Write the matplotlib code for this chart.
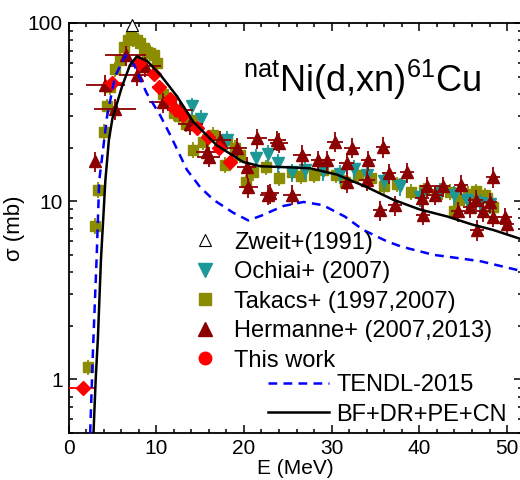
import numpy as np
import matplotlib
matplotlib.use("Agg")
import matplotlib.pyplot as plt
from matplotlib.lines import Line2D
from matplotlib.ticker import MultipleLocator, NullFormatter, LogLocator

plt.rcParams['font.family'] = ['Liberation Sans', 'DejaVu Sans']
plt.rcParams['mathtext.fontset'] = 'custom'
plt.rcParams['mathtext.rm'] = 'Liberation Sans'
plt.rcParams['mathtext.it'] = 'Liberation Sans:italic'

# --- experimental data (E in MeV, sigma in mb) ---
zweit_e = [7.2]
zweit_s = [98.0]

ochiai_e = [14.1, 15.1, 18.1, 21.4, 22.8, 23.9, 25.5, 27.0, 29.0, 31.0, 32.5, 34.0,
            36.0, 37.8, 40.1, 42.4, 44.0, 45.4, 46.9, 48.0]
ochiai_s = [34.0, 29.0, 22.0, 17.5, 18.5, 16.4, 14.5, 15.0, 14.8, 14.2, 15.2, 14.0,
            13.0, 12.1, 10.6, 11.3, 10.8, 10.2, 9.8, 9.6]

takacs_e = [2.25, 3.05, 3.35, 4.0, 4.4, 4.75, 5.3, 5.9, 6.3, 6.8, 7.1, 7.4, 7.8, 8.2,
            8.6, 8.9, 9.3, 9.7, 10.1, 10.8, 12.0, 12.6, 13.4, 14.1, 14.2, 15.3, 16.5,
            17.8, 18.1, 19.0, 19.6, 20.2, 21.0, 22.5, 24.0, 25.5, 26.5, 28.0, 29.0,
            30.5, 31.5, 33.0, 34.5, 36.0, 37.5, 39.0, 40.5, 42.0, 43.5, 43.9, 44.5,
            45.5, 46.5, 47.5, 47.7, 48.4]
takacs_s = [1.17, 7.3, 11.6, 24.5, 34.0, 44.0, 55.0, 62.0, 73.0, 80.0, 84.0, 82.0,
            80.0, 77.0, 72.0, 69.0, 68.0, 66.0, 60.0, 40.0, 31.3, 30.0, 27.0, 28.6,
            19.5, 21.6, 23.6, 16.0, 22.0, 20.0, 18.2, 12.8, 14.5, 15.5, 13.5, 14.5,
            13.8, 14.0, 15.0, 14.0, 12.8, 14.0, 13.5, 12.2, 12.5, 11.3, 11.5, 11.0,
            11.3, 8.8, 10.2, 11.0, 11.4, 10.8, 10.4, 9.3]

hermanne_e = [3.05, 4.2, 5.3, 6.5, 7.8, 8.7, 10.8, 12.7, 13.9, 15.8, 16.0, 17.3,
              19.2, 20.3, 20.5, 21.5, 22.8, 23.0, 23.8, 24.0, 25.5, 26.6, 28.5, 29.5,
              30.4, 31.7, 31.8, 32.3, 34.0, 34.2, 35.5, 35.9, 36.5, 37.2, 38.6, 40.3,
              40.4, 40.9, 41.8, 42.7, 44.4, 44.7, 45.8, 46.4, 46.6, 47.2, 48.1, 48.4,
              48.4, 49.8, 50.0]
hermanne_s = [16.7, 45.0, 33.0, 66.0, 51.0, 57.0, 36.0, 32.5, 27.0, 19.0, 17.8, 22.0,
              20.0, 15.6, 12.0, 22.5, 10.9, 11.1, 22.0, 21.3, 10.9, 18.2, 17.0, 17.0,
              21.6, 16.4, 12.8, 20.0, 13.1, 17.0, 8.9, 20.2, 14.4, 9.5, 14.5, 10.4,
              8.4, 12.1, 10.9, 12.1, 8.8, 12.4, 9.3, 10.2, 6.9, 8.8, 9.9, 13.7,
              8.2, 8.1, 7.4]
hermanne_xerr = [0.3, 2.2, 2.4, 2.3, 2.0, 1.8, 1.6, 1.5, 1.4, 1.3, 1.3, 1.2,
                 1.2, 1.1, 1.1, 1.1, 1.0, 1.0, 1.0, 1.0, 1.0, 1.0, 0.9, 0.9,
                 0.9, 0.9, 0.9, 0.9, 0.9, 0.9, 0.8, 0.8, 0.8, 0.8, 0.8, 0.8,
                 0.8, 0.8, 0.8, 0.8, 0.8, 0.8, 0.8, 0.8, 0.8, 0.8, 0.8, 0.8,
                 0.8, 0.8, 0.8]

this_e = [1.6, 5.0, 8.0, 9.7, 10.3, 11.6, 12.1, 13.1, 14.7, 15.9, 17.2, 18.4]
this_s = [0.89, 46.0, 60.0, 52.0, 44.0, 37.5, 33.0, 30.5, 25.8, 23.0, 19.9, 16.5]
this_xerr = [1.5, 1.1, 0.9, 0.8, 0.8, 0.7, 0.7, 0.7, 0.6, 0.6, 0.6, 0.6]

# relative uncertainties of each data set
ochiai_rel = 0.12
takacs_rel = 0.10
hermanne_rel = 0.13
this_rel = 0.06

# --- model calculations ---
tendl_e = [2.47, 2.8, 3.2, 3.5, 4.4, 5.3, 6.5, 7.5, 8.9, 10.5, 11.6, 13.5, 15.0,
           16.5, 18.8, 20.5, 22.0, 24.5, 26.8, 29.0, 31.5, 33.6, 36.3, 38.0, 41.6,
           44.3, 47.0, 51.7]
tendl_s = [0.5, 1.5, 4.7, 13.0, 30.0, 50.0, 66.0, 58.0, 40.5, 30.0, 23.5, 15.0, 12.0,
           10.2, 8.6, 7.8, 8.3, 9.4, 9.9, 9.5, 8.2, 6.9, 5.95, 5.55, 5.0,
           4.8, 4.6, 4.05]

calc_e = [2.85, 3.1, 3.35, 3.7, 4.2, 4.6, 5.0, 6.1, 7.0, 7.8, 9.0, 10.5, 12.4, 14.2,
          16.9, 19.9, 21.9, 25.0, 27.5, 30.6, 34.0, 37.0, 40.0, 43.2, 46.0, 48.4, 51.7]
calc_s = [0.5, 1.0, 1.7, 4.7, 13.0, 22.0, 29.0, 44.0, 58.0, 65.0, 61.0, 51.0, 38.6,
          28.0, 20.6, 16.6, 15.7, 15.5, 15.3, 14.1, 12.0, 10.2, 9.0, 8.2, 7.4, 6.9, 6.1]

c_teal = '#1c9896'
c_olive = '#8c8c00'
c_dred = '#8b0000'
c_red = '#ff0000'

fig = plt.figure(figsize=(5.2, 4.8), dpi=100)
ax = fig.add_axes([68.5 / 520, 47 / 480, (522 - 68.5) / 520, 410 / 480])

def rel_err(vals, rel):
    v = np.asarray(vals)
    return v * rel

ax.errorbar(takacs_e, takacs_s, yerr=rel_err(takacs_s, takacs_rel), fmt='s',
            color=c_olive, ms=7, elinewidth=1.3, capsize=0, zorder=2)
ax.errorbar(ochiai_e, ochiai_s, yerr=rel_err(ochiai_s, ochiai_rel), fmt='v',
            color=c_teal, ms=8.5, elinewidth=1.3, capsize=0, zorder=2.2)
ax.errorbar(hermanne_e, hermanne_s, xerr=hermanne_xerr,
            yerr=rel_err(hermanne_s, hermanne_rel), fmt='^', color=c_dred,
            ms=8.5, elinewidth=1.3, capsize=0, zorder=2.4)
ax.errorbar(this_e, this_s, xerr=this_xerr, yerr=rel_err(this_s, this_rel),
            fmt='D', color=c_red, ms=7.5, elinewidth=1.3, capsize=0, zorder=2.6)
ax.plot(zweit_e, zweit_s, '^', mfc='white', mec='black', mew=0.8, ms=8,
        zorder=3, clip_on=False)

ax.plot(tendl_e, tendl_s, '--', color='#0000ff', lw=1.8, dashes=(3.5, 2.5), zorder=4)
ax.plot(calc_e, calc_s, '-', color='black', lw=1.8, zorder=4)

ax.set_yscale('log')
ax.set_xlim(0, 51.7)
ax.set_ylim(0.5, 100)
ax.set_xticks([0, 10, 20, 30, 40, 50])
ax.xaxis.set_minor_locator(MultipleLocator(2))
ax.set_yticks([1, 10, 100], ['1', '10', '100'])
ax.yaxis.set_minor_locator(LogLocator(base=10, subs=np.arange(2, 10)))
ax.yaxis.set_minor_formatter(NullFormatter())
ax.tick_params(which='both', direction='in', top=True, right=True, width=1.1,
               labelsize=15, pad=4)
ax.tick_params(which='major', length=6)
ax.tick_params(which='minor', length=3)
for sp in ax.spines.values():
    sp.set_linewidth(1.3)

ax.set_xlabel('E (MeV)', fontsize=15, labelpad=1)
ax.set_ylabel('σ (mb)', fontsize=16, labelpad=2)

fig.text(243 / 520, 1 - 92 / 480, r'$^{\mathrm{nat}}$Ni(d,xn)$^{61}$Cu',
         fontsize=26, ha='left', va='baseline')

mk_handles = [
    Line2D([], [], ls='none', marker='^', mfc='white', mec='black', mew=0.8, ms=9),
    Line2D([], [], ls='none', marker='v', color=c_teal, ms=10),
    Line2D([], [], ls='none', marker='s', color=c_olive, ms=8),
    Line2D([], [], ls='none', marker='^', color=c_dred, ms=10),
    Line2D([], [], ls='none', marker='o', color=c_red, ms=9),
]
mk_labels = ['Zweit+(1991)', 'Ochiai+ (2007)', 'Takacs+ (1997,2007)',
             'Hermanne+ (2007,2013)', 'This work']
leg1 = ax.legend(mk_handles, mk_labels, loc='upper left', frameon=False,
                 fontsize=17, handlelength=1.0, handletextpad=0.75,
                 labelspacing=0.32, borderpad=0, borderaxespad=0,
                 bbox_to_anchor=(193 / 520, 1 - 231.5 / 480),
                 bbox_transform=fig.transFigure)
ax.add_artist(leg1)

ln_handles = [
    Line2D([], [], ls='--', color='#0000ff', lw=1.8, dashes=(3.5, 2.5)),
    Line2D([], [], ls='-', color='black', lw=1.8),
]
ax.legend(ln_handles, ['TENDL-2015', 'BF+DR+PE+CN'], loc='upper left',
          frameon=False, fontsize=17, handlelength=2.6, handletextpad=0.3,
          labelspacing=0.32, borderpad=0, borderaxespad=0,
          bbox_to_anchor=(268 / 520, 1 - 374 / 480),
          bbox_transform=fig.transFigure)

fig.savefig('out.png', dpi=100)
